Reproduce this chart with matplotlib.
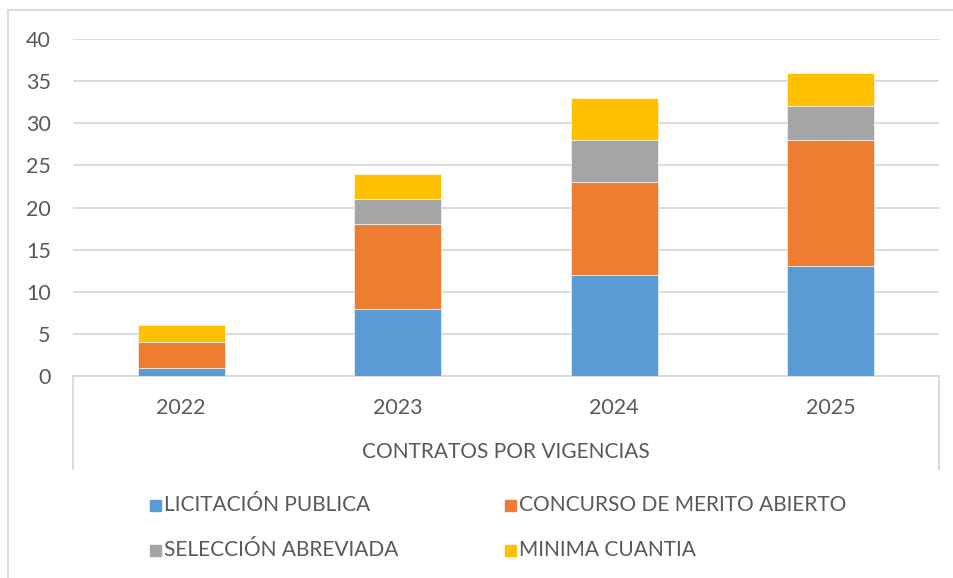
import matplotlib.pyplot as plt
from matplotlib.patches import Rectangle
from matplotlib.lines import Line2D

years = ["2022", "2023", "2024", "2025"]
series = ["LICITACIÓN PUBLICA", "CONCURSO DE MERITO ABIERTO",
          "SELECCIÓN ABREVIADA", "MINIMA CUANTIA"]
licitacion = [1, 8, 12, 13]
concurso = [3, 10, 11, 15]
seleccion = [0, 3, 5, 4]
minima = [2, 3, 5, 4]
colors = ["#5B9BD5", "#ED7D31", "#A5A5A5", "#FFC000"]
axis_title = "CONTRATOS POR VIGENCIAS"

W, H = 954, 578
txt = "#595959"
grid = "#D9D9D9"
plt.rcParams['font.family'] = ['Lato', 'DejaVu Sans']

fig = plt.figure(figsize=(W / 100, H / 100), dpi=100)

# borde exterior del grafico
fig.add_artist(Rectangle((8.5 / W, -0.05), 1.1, (H - 9.5) / H + 0.05,
                         transform=fig.transFigure, fill=False,
                         edgecolor=grid, linewidth=1.3))

x0, x1, ytop, ybot = 73, 939, 39, 376
ax = fig.add_axes([x0 / W, (H - ybot) / H, (x1 - x0) / W, (ybot - ytop) / H])

x = range(len(years))
bottom = [0] * len(years)
for vals, c in zip([licitacion, concurso, seleccion, minima], colors):
    ax.bar(x, vals, width=0.4, bottom=bottom, color=c,
           edgecolor="white", linewidth=0.4, zorder=3)
    bottom = [b + v for b, v in zip(bottom, vals)]

ax.set_xlim(-0.5, len(years) - 0.5)
ax.set_ylim(0, 40)
ax.set_yticks(range(0, 41, 5))
ax.yaxis.grid(True, color=grid, linewidth=1.3)
ax.set_axisbelow(True)
for s in ["top", "right", "left"]:
    ax.spines[s].set_visible(False)
ax.spines["bottom"].set_color(grid)
ax.spines["bottom"].set_linewidth(1.3)
ax.tick_params(axis="y", length=0, pad=16, labelsize=15.5, labelcolor=txt)
ax.set_xticks([])

# eje de categorias de dos niveles
yb = (ybot - 469) / (ybot - ytop)
for xe in (0, 1):
    ax.add_line(Line2D([xe, xe], [0, yb], transform=ax.transAxes,
                       color=grid, linewidth=1.3, clip_on=False))
for i, yr in enumerate(years):
    ax.text(i, -32 / (ybot - ytop) * 40, yr, ha="center", va="center",
            fontsize=15.5, color=txt)
ax.text(0.5, (ybot - 452) / (ybot - ytop), axis_title, transform=ax.transAxes,
        ha="center", va="center", fontsize=15, color=txt)

# leyenda
pos = [(150, 505), (505, 505), (150, 550), (505, 550)]
for (px, py), name, c in zip(pos, series, colors):
    fig.add_artist(Rectangle((px / W, (H - py - 5.5) / H), 11 / W, 11 / H,
                             transform=fig.transFigure, color=c))
    fig.text((px + 14) / W, (H - py) / H, name, ha="left", va="center",
             fontsize=15, color=txt)

fig.savefig("out.png", dpi=100)
